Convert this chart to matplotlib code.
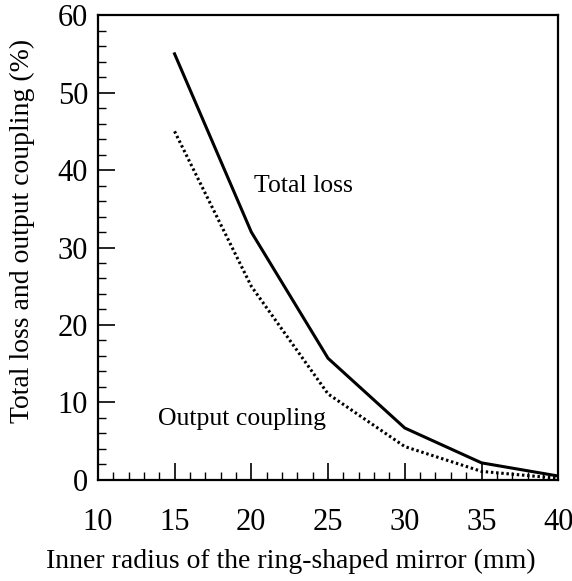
import matplotlib
matplotlib.use('Agg')
import matplotlib.pyplot as plt
from matplotlib.ticker import MultipleLocator

# values
radius = [15, 20, 25, 30, 35, 40]
total_loss = [55.0, 32.0, 15.7, 6.7, 2.2, 0.5]
output_coupling = [45.0, 25.0, 11.1, 4.3, 1.1, 0.2]

plt.rcParams['font.family'] = ['Liberation Serif', 'DejaVu Serif']

fig = plt.figure(figsize=(5.72, 5.81), dpi=100)
ax = fig.add_axes([0.171, 0.174, 0.805, 0.800])

ax.plot(radius, total_loss, color='black', lw=2.2)
ax.plot(radius, output_coupling, color='black', lw=2.2, linestyle=(0, (0.8, 0.9)))

ax.text(20.2, 38, 'Total loss', fontsize=18.5, va='center', ha='left')
ax.text(13.9, 7.9, 'Output coupling', fontsize=18.5, va='center', ha='left')

ax.set_xlim(10, 40)
ax.set_ylim(0, 60)
ax.xaxis.set_major_locator(MultipleLocator(5))
ax.xaxis.set_minor_locator(MultipleLocator(1))
ax.yaxis.set_major_locator(MultipleLocator(10))
ax.yaxis.set_minor_locator(MultipleLocator(2))
ax.tick_params(which='major', direction='in', length=12, width=1.2, labelsize=22, pad=20)
ax.tick_params(which='minor', direction='in', length=6, width=1.0)
ax.tick_params(axis='y', which='major', pad=7)
for s in ax.spines.values():
    s.set_linewidth(1.6)

ax.set_xlabel('Inner radius of the ring-shaped mirror (mm)', fontsize=20)
ax.set_ylabel('Total loss and output coupling (%)', fontsize=20)
# the scanned labels sit a little off the axes centre
ax.xaxis.set_label_coords(0.42, -0.148)
ax.yaxis.set_label_coords(-0.137, 0.535)

fig.savefig('out.png', dpi=100)
